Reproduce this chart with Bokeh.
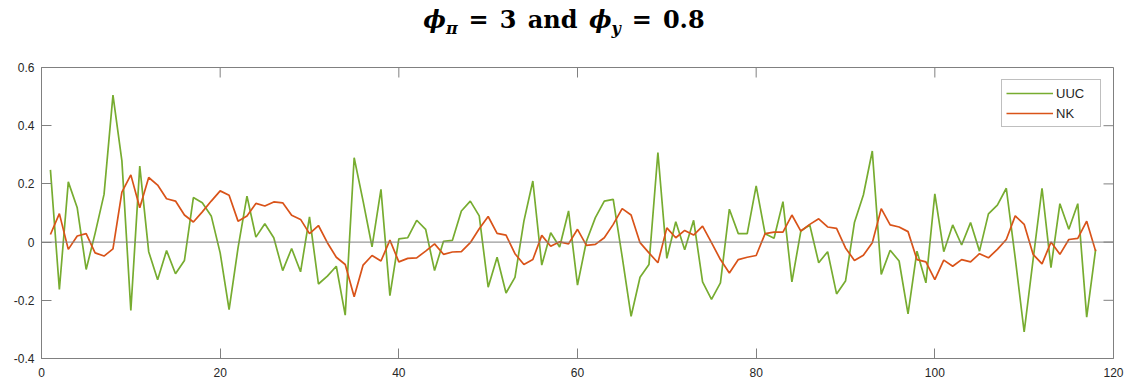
import math

from bokeh.plotting import figure
from bokeh.models import (ColumnDataSource, Div, FixedTicker, LinearAxis,
                          Legend, LegendItem, Range1d, Span)
from bokeh.layouts import column
from bokeh.embed import file_html
from bokeh.resources import INLINE

# Simulated impulse paths, periods 1..118
periods = list(range(1, 119))

uuc = [
    0.248, -0.163, 0.207, 0.118, -0.094, 0.030, 0.164, 0.505, 0.279, -0.235,
    0.261, -0.033, -0.129, -0.029, -0.109, -0.063, 0.153, 0.135, 0.090, -0.037,
    -0.232, -0.020, 0.158, 0.017, 0.063, 0.015, -0.098, -0.022, -0.102, 0.087,
    -0.144, -0.117, -0.083, -0.251, 0.290, 0.141, -0.016, 0.181, -0.184, 0.011,
    0.015, 0.075, 0.044, -0.098, 0.003, 0.006, 0.107, 0.141, 0.090, -0.155,
    -0.052, -0.175, -0.121, 0.072, 0.210, -0.079, 0.032, -0.017, 0.107, -0.148,
    0.003, 0.084, 0.141, 0.147, -0.050, -0.255, -0.121, -0.077, 0.308, -0.056,
    0.070, -0.026, 0.075, -0.137, -0.197, -0.140, 0.113, 0.029, 0.029, 0.193,
    0.029, 0.013, 0.139, -0.137, 0.038, 0.059, -0.071, -0.033, -0.178, -0.134,
    0.067, 0.162, 0.313, -0.111, -0.028, -0.065, -0.247, -0.031, -0.140, 0.166,
    -0.033, 0.059, -0.010, 0.067, -0.031, 0.097, 0.127, 0.185, -0.055, -0.309,
    -0.060, 0.185, -0.088, 0.132, 0.044, 0.132, -0.258, -0.025,
]

nk = [
    0.026, 0.098, -0.025, 0.021, 0.029, -0.037, -0.048, -0.023, 0.172, 0.231,
    0.118, 0.222, 0.196, 0.149, 0.141, 0.093, 0.069, 0.104, 0.141, 0.176,
    0.161, 0.072, 0.090, 0.133, 0.124, 0.138, 0.135, 0.092, 0.078, 0.029,
    0.057, -0.002, -0.052, -0.077, -0.188, -0.079, -0.046, -0.065, 0.007, -0.068,
    -0.056, -0.054, -0.031, -0.006, -0.042, -0.034, -0.033, -0.002, 0.046, 0.088,
    0.030, 0.024, -0.040, -0.077, -0.060, 0.023, -0.014, 0.001, -0.006, 0.044,
    -0.011, -0.008, 0.015, 0.061, 0.115, 0.093, -0.002, -0.037, -0.071, 0.049,
    0.015, 0.040, 0.024, 0.055, -0.002, -0.060, -0.106, -0.060, -0.052, -0.046,
    0.029, 0.034, 0.034, 0.093, 0.038, 0.061, 0.080, 0.052, 0.047, -0.020,
    -0.063, -0.045, -0.002, 0.115, 0.059, 0.052, 0.036, -0.060, -0.068, -0.129,
    -0.062, -0.083, -0.060, -0.068, -0.040, -0.054, -0.025, 0.009, 0.090, 0.061,
    -0.042, -0.075, 0.000, -0.042, 0.009, 0.013, 0.072, -0.031,
]

x_ticks = [0, 20, 40, 60, 80, 100, 120]
x_labels = ["0", "20", "40", "60", "80", "100", "120"]
y_ticks = [-0.4, -0.2, 0.0, 0.2, 0.4, 0.6]
y_labels = ["-0.4", "-0.2", "0", "0.2", "0.4", "0.6"]
baseline = 0.0

GREEN = "#77AC30"
ORANGE = "#D95319"
AXIS_GRAY = "#808080"
TEXT_DARK = "#262626"
TICK_FONT = "Liberation Sans"
TICK_LEN = 10

EQ = '<span style="padding:0 11px;">=</span>'
SUB = '<sub style="font-size:16px;"><i>{}</i></sub>'
title = Div(
    text=('<div style="width:1128px;text-align:center;font-family:\'DejaVu Serif\';'
          'font-weight:bold;font-size:24px;color:#000;padding-top:3px;word-spacing:3px;">'
          '<i>ϕ</i>' + SUB.format("π") + EQ + '3 and '
          '<i>ϕ</i>' + SUB.format("y") + EQ + '0.8</div>'),
    width=1128, height=55, margin=(0, 0, 0, 0),
)

p = figure(
    width=1128, height=332,
    x_range=Range1d(x_ticks[0], x_ticks[-1]),
    y_range=Range1d(y_ticks[0], y_ticks[-1]),
    output_backend="svg", toolbar_location=None,
    min_border_left=41, min_border_right=15,
    min_border_top=12, min_border_bottom=29,
    x_axis_location=None, y_axis_location=None,
)
p.grid.visible = False
p.outline_line_color = AXIS_GRAY
p.background_fill_color = "white"
p.border_fill_color = "white"


def style_axis(ax, ticks, labels, standoff):
    ax.ticker = FixedTicker(ticks=ticks)
    ax.major_label_overrides = dict(zip(ticks, labels))
    ax.axis_line_color = AXIS_GRAY
    ax.axis_line_width = 1
    ax.major_tick_line_color = AXIS_GRAY
    ax.major_tick_in = TICK_LEN
    ax.major_tick_out = 0
    ax.minor_tick_line_color = None
    ax.major_label_text_font = TICK_FONT
    ax.major_label_text_color = TEXT_DARK
    ax.major_label_text_font_size = "12px"
    ax.major_label_standoff = standoff


x_axis = LinearAxis()
style_axis(x_axis, x_ticks, x_labels, 9)
p.add_layout(x_axis, "below")

y_axis = LinearAxis()
style_axis(y_axis, y_ticks, y_labels, 7)
p.add_layout(y_axis, "left")

# inward ticks mirrored on the top and right edges of the box
p.ray(x=x_ticks, y=[y_ticks[-1]] * len(x_ticks), length=TICK_LEN,
      length_units="screen", angle=-math.pi / 2, line_color=AXIS_GRAY, line_width=1)
p.ray(x=[x_ticks[-1]] * len(y_ticks), y=y_ticks, length=TICK_LEN,
      length_units="screen", angle=math.pi, line_color=AXIS_GRAY, line_width=1)

p.add_layout(Span(location=baseline, dimension="width",
                  line_color=AXIS_GRAY, line_width=1))

src = ColumnDataSource(dict(t=periods, uuc=uuc, nk=nk))
r_uuc = p.line("t", "uuc", source=src, line_color=GREEN, line_width=1.7)
r_nk = p.line("t", "nk", source=src, line_color=ORANGE, line_width=1.7)

legend = Legend(
    items=[LegendItem(label="UUC", renderers=[r_uuc]),
           LegendItem(label="NK", renderers=[r_nk])],
    location="top_right", margin=12, padding=4, spacing=2,
    glyph_width=47, glyph_height=18, label_height=18, label_width=40,
    label_standoff=3,
    label_text_font=TICK_FONT, label_text_font_size="13px",
    label_text_color=TEXT_DARK,
    border_line_color=AXIS_GRAY, border_line_width=1,
    background_fill_color="white", background_fill_alpha=1.0,
)
p.add_layout(legend, "center")

layout = column(title, p, spacing=0)
open("out.html", "w").write(file_html(layout, INLINE))
